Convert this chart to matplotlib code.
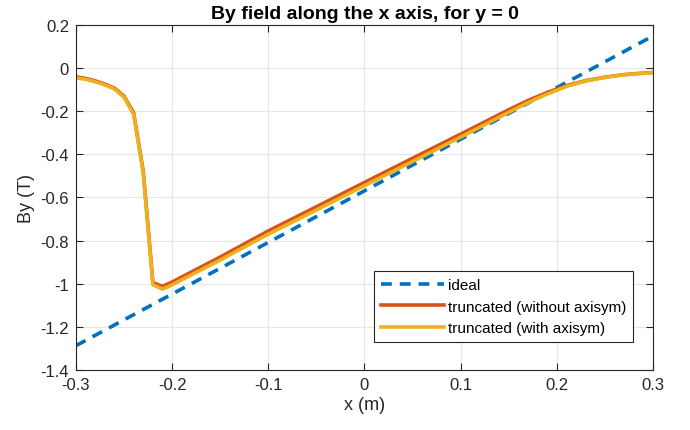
import numpy as np
import matplotlib.pyplot as plt

plt.rcParams['font.family'] = ['Liberation Sans', 'DejaVu Sans']
plt.rcParams['axes.unicode_minus'] = False

# ideal field: straight line
x_ideal = [-0.3, 0.3]
by_ideal = [-1.287, 0.149]

# truncated magnet, sampled along x
x_trunc = [-0.30, -0.29, -0.28, -0.27, -0.26, -0.25, -0.24, -0.23, -0.22, -0.21,
           -0.20, -0.15, -0.10, -0.05, 0.00, 0.05, 0.10, 0.15, 0.17, 0.19,
           0.21, 0.23, 0.25, 0.27, 0.29, 0.30]
by_no_axisym = [-0.040, -0.048, -0.059, -0.074, -0.093, -0.130, -0.208, -0.480, -0.995, -1.012,
                -0.992, -0.876, -0.755, -0.643, -0.530, -0.418, -0.306, -0.193, -0.150, -0.113,
                -0.081, -0.058, -0.042, -0.030, -0.023, -0.020]
by_axisym = [-0.045, -0.052, -0.063, -0.078, -0.097, -0.135, -0.215, -0.490, -1.005, -1.025,
             -1.005, -0.890, -0.770, -0.658, -0.545, -0.433, -0.320, -0.205, -0.160, -0.120,
             -0.085, -0.060, -0.043, -0.031, -0.024, -0.021]

fig = plt.figure(figsize=(6.9, 4.31), dpi=100)
ax = fig.add_axes([0.1101, 0.1392, 0.8363, 0.8005])

ax.plot(x_ideal, by_ideal, '--', color=(0, 0.447, 0.741), lw=2.6, dashes=(3, 2.2),
        label='ideal')
ax.plot(x_trunc, by_no_axisym, '-', color=(0.85, 0.325, 0.098), lw=2.6,
        label='truncated (without axisym)')
ax.plot(x_trunc, by_axisym, '-', color=(0.929, 0.694, 0.125), lw=2.6,
        label='truncated (with axisym)')

ax.set_xlim(-0.3, 0.3)
ax.set_ylim(-1.4, 0.2)
ax.set_xticks(np.round(np.arange(-0.3, 0.31, 0.1), 1))
ax.set_yticks(np.round(np.arange(-1.4, 0.21, 0.2), 1))
ax.set_xticklabels(['-0.3', '-0.2', '-0.1', '0', '0.1', '0.2', '0.3'])
ax.set_yticklabels(['-1.4', '-1.2', '-1', '-0.8', '-0.6', '-0.4', '-0.2', '0', '0.2'])
ax.tick_params(direction='in', top=True, right=True, labelsize=12, length=5,
               width=0.8, colors='#262626', pad=5)
ax.grid(True, color='#e6e6e6', lw=0.8)
ax.set_axisbelow(True)
for s in ax.spines.values():
    s.set_color('#262626')
    s.set_linewidth(0.8)

ax.set_xlabel('x (m)', fontsize=13, color='#262626', labelpad=3)
ax.set_ylabel('By (T)', fontsize=13, color='#262626', labelpad=4)
ax.set_title('By field along the x axis, for y = 0', fontsize=14, fontweight='bold',
             color='black', pad=5)

leg = ax.legend(loc='lower right', bbox_to_anchor=(0.966, 0.081), borderaxespad=0,
                fontsize=11, frameon=True, fancybox=False, edgecolor='#262626',
                framealpha=1, handlelength=4.1, handletextpad=0.3, borderpad=0.45,
                labelspacing=0.5)
leg.get_frame().set_linewidth(0.8)

fig.savefig('out.png', dpi=100)
